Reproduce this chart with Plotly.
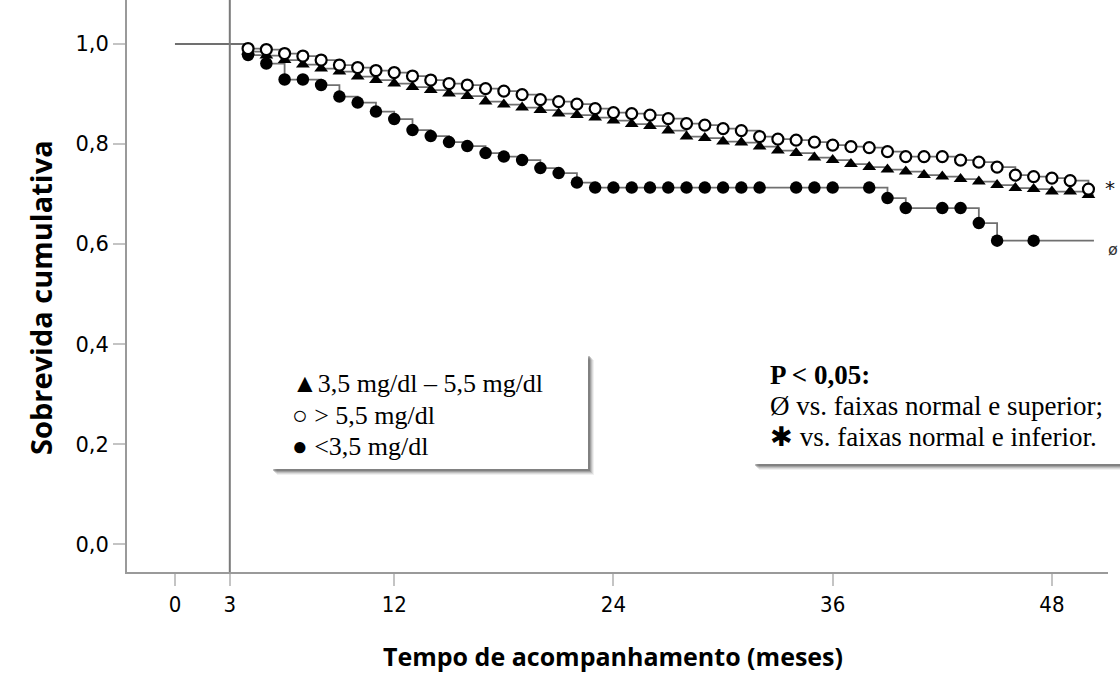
import plotly.graph_objects as go

# ---------------- data ----------------
start_time = 0
start_surv = 1.0
end_time = 50.3

months_mid = list(range(4, 51))
surv_mid = [0.985, 0.977, 0.968, 0.959, 0.951, 0.945, 0.935, 0.928, 0.921, 0.914,
            0.908, 0.901, 0.896, 0.885, 0.879, 0.873, 0.868, 0.861, 0.858, 0.853,
            0.847, 0.840, 0.836, 0.827, 0.815, 0.812, 0.805, 0.803, 0.795, 0.787,
            0.782, 0.773, 0.768, 0.760, 0.754, 0.749, 0.745, 0.738, 0.735, 0.730,
            0.725, 0.718, 0.712, 0.710, 0.705, 0.705, 0.698]

months_high = list(range(4, 51))
surv_high = [0.991, 0.989, 0.981, 0.976, 0.968, 0.958, 0.953, 0.947, 0.943, 0.936,
             0.928, 0.921, 0.918, 0.911, 0.906, 0.899, 0.889, 0.885, 0.880, 0.871,
             0.863, 0.861, 0.858, 0.851, 0.841, 0.838, 0.831, 0.827, 0.815, 0.810,
             0.808, 0.804, 0.798, 0.795, 0.793, 0.785, 0.775, 0.775, 0.775, 0.768,
             0.764, 0.754, 0.738, 0.735, 0.732, 0.727, 0.710]

months_low = [4, 5, 6, 7, 8, 9, 10, 11, 12, 13, 14, 15, 16, 17, 18, 19, 20, 21, 22,
              23, 24, 25, 26, 27, 28, 29, 30, 31, 32, 34, 35, 36, 38, 39, 40, 42,
              43, 44, 45, 47]
surv_low = [0.978, 0.961, 0.929, 0.929, 0.918, 0.895, 0.883, 0.865, 0.850, 0.828,
            0.816, 0.804, 0.796, 0.782, 0.775, 0.768, 0.752, 0.742, 0.723, 0.713,
            0.713, 0.713, 0.713, 0.713, 0.713, 0.713, 0.713, 0.713, 0.713, 0.713,
            0.713, 0.713, 0.713, 0.692, 0.672, 0.672, 0.672, 0.642, 0.607, 0.607]

x_tick_vals = [0, 3, 12, 24, 36, 48]
y_tick_vals = [0.0, 0.2, 0.4, 0.6, 0.8, 1.0]
y_tick_text = ["0,0", "0,2", "0,4", "0,6", "0,8", "1,0"]
landmark_month = 3

legend_lines = ["▲3,5 mg/dl – 5,5 mg/dl", "○ &gt; 5,5 mg/dl", "● &lt;3,5 mg/dl"]
note_lines = ["<b>P &lt; 0,05:</b>", "Ø vs. faixas normal e superior;",
              "✱ vs. faixas normal e inferior."]
x_title = "Tempo de acompanhamento (meses)"
y_title = "Sobrevida cumulativa"

# ---------------- layout geometry ----------------
W, H = 1120, 673
L, R, T, B = 127, 12, 0, 101
PW, PH = W - L - R, H - T - B


def px_x(p):
    return (p - L) / PW


def px_y(p):
    return (H - B - p) / PH


LINE_COLOR = "#707070"
fig = go.Figure()


def km_line(times, survs):
    xs = [start_time] + list(times) + [end_time]
    ys = [start_surv] + list(survs) + [survs[-1]]
    return go.Scatter(x=xs, y=ys, mode="lines", line=dict(color=LINE_COLOR, width=1.8, shape="hv"),
                      hoverinfo="skip", showlegend=False)


fig.add_trace(km_line(months_mid, surv_mid))
fig.add_trace(km_line(months_high, surv_high))
fig.add_trace(km_line(months_low, surv_low))

fig.add_trace(go.Scatter(x=months_mid, y=surv_mid, mode="markers", showlegend=False,
                         marker=dict(symbol="triangle-up", size=12, color="black")))
fig.add_trace(go.Scatter(x=months_low, y=surv_low, mode="markers", showlegend=False,
                         marker=dict(symbol="circle", size=12.5, color="black")))
fig.add_trace(go.Scatter(x=months_high, y=surv_high, mode="markers", showlegend=False,
                         marker=dict(symbol="circle", size=11, color="white",
                                     line=dict(color="black", width=2.2))))

shapes = [dict(type="line", xref="x", yref="paper", x0=landmark_month, x1=landmark_month,
               y0=0, y1=1, line=dict(color="#7a7a7a", width=2))]


def box(x0, y0, x1, y1):
    # soft shadow
    for i, op in enumerate([0.08, 0.12, 0.18, 0.26, 0.34]):
        off = 6 - i
        shapes.append(dict(type="rect", xref="paper", yref="paper",
                           x0=px_x(x0 + off + 1), x1=px_x(x1 + off), y0=px_y(y1 + off), y1=px_y(y0 + off + 1),
                           line=dict(width=0), fillcolor="rgba(70,70,70,%.2f)" % op, layer="above"))
    shapes.append(dict(type="rect", xref="paper", yref="paper",
                       x0=px_x(x0), x1=px_x(x1), y0=px_y(y1), y1=px_y(y0),
                       line=dict(width=0), fillcolor="white", layer="above"))


box(270, 353, 588, 469)
box(752, 347, 1135, 464)

annotations = []
serif = "Liberation Serif, Times New Roman, serif"
for txt, yp in zip(legend_lines, [383, 415, 446]):
    annotations.append(dict(text=txt, xref="paper", yref="paper", x=px_x(290), y=px_y(yp),
                            xanchor="left", yanchor="middle", showarrow=False,
                            font=dict(family=serif, size=26, color="black")))
for txt, yp in zip(note_lines, [375, 406, 437]):
    annotations.append(dict(text=txt, xref="paper", yref="paper", x=px_x(768), y=px_y(yp),
                            xanchor="left", yanchor="middle", showarrow=False,
                            font=dict(family=serif, size=27, color="black")))

annotations.append(dict(text="*", xref="paper", yref="paper", x=px_x(1110), y=px_y(188),
                        xanchor="center", yanchor="middle", showarrow=False,
                        font=dict(family="DejaVu Sans", size=20, color="#111111")))
annotations.append(dict(text="ø", xref="paper", yref="paper", x=px_x(1106), y=px_y(249),
                        xanchor="left", yanchor="middle", showarrow=False,
                        font=dict(family="DejaVu Sans", size=16, color="#333333")))

annotations.append(dict(text="<b>" + x_title + "</b>", xref="paper", yref="paper",
                        x=px_x(613), y=px_y(656), xanchor="center", yanchor="middle",
                        showarrow=False, font=dict(family="Open Sans", size=25, color="black")))
annotations.append(dict(text="<b>" + y_title + "</b>", xref="paper", yref="paper",
                        x=px_x(40), y=px_y(298), xanchor="center", yanchor="middle", textangle=-90,
                        showarrow=False, font=dict(family="Open Sans", size=29, color="black")))

fig.update_layout(
    width=W, height=H, margin=dict(l=L, r=R, t=T, b=B),
    paper_bgcolor="white", plot_bgcolor="white",
    shapes=shapes, annotations=annotations, showlegend=False,
    xaxis=dict(range=[-2.627, 51.07], tickmode="array", tickvals=x_tick_vals,
               ticks="outside", ticklen=12, tickwidth=1.5, tickcolor="#c4c4c4",
               showline=True, linecolor="#9a9a9a", linewidth=2, showgrid=False, zeroline=False,
               tickfont=dict(family="Liberation Sans Narrow, DejaVu Sans Condensed, Roboto", size=22,
                             color="black")),
    yaxis=dict(range=[-0.0554, 1.088], tickmode="array", tickvals=y_tick_vals, ticktext=y_tick_text,
               ticks="outside", ticklen=12, tickwidth=1.5, tickcolor="#c4c4c4",
               showline=True, linecolor="#9a9a9a", linewidth=2, showgrid=False, zeroline=False,
               tickfont=dict(family="DejaVu Sans", size=21, color="black")),
)

fig.write_html("out.html", config={"displayModeBar": False},
               post_script="document.body.style.margin='0';document.body.style.overflow='hidden';")
